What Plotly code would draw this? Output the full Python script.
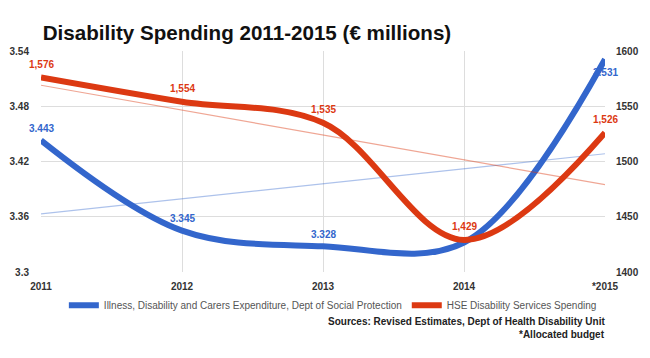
import numpy as np
import plotly.graph_objects as go

years = [2011, 2012, 2013, 2014, 2015]
year_labels = ["2011", "2012", "2013", "2014", "*2015"]
social_protection = [3.443, 3.345, 3.328, 3.332, 3.531]
hse_spending = [1576, 1554, 1535, 1429, 1526]
left_ticks = [3.3, 3.36, 3.42, 3.48, 3.54]
right_ticks = [1400, 1450, 1500, 1550, 1600]
blue_label_shown = [True, True, True, False, True]

BLUE = "#3366cc"
RED = "#dc3912"
FONT = "Liberation Sans, Arial, sans-serif"
TRANSPARENT = "rgba(0,0,0,0)"

fig = go.Figure()

# linear trend lines
b_fit = np.polyfit(years, social_protection, 1)
r_fit = np.polyfit(years, hse_spending, 1)
fig.add_trace(go.Scatter(x=years, y=np.polyval(b_fit, years), mode="lines",
                         line=dict(color="rgba(51,102,204,0.4)", width=1.2),
                         showlegend=False, hoverinfo="skip"))
fig.add_trace(go.Scatter(x=years, y=np.polyval(r_fit, years), mode="lines",
                         line=dict(color="rgba(220,57,18,0.45)", width=1.2),
                         showlegend=False, hoverinfo="skip", yaxis="y2"))

fig.add_trace(go.Scatter(x=years, y=social_protection, mode="lines",
                         name="Illness, Disability and Carers Expenditure, Dept of Social Protection",
                         line=dict(color=BLUE, width=6, shape="spline", smoothing=1.0)))
fig.add_trace(go.Scatter(x=years, y=hse_spending, mode="lines",
                         name="HSE Disability Services Spending",
                         line=dict(color=RED, width=6, shape="spline", smoothing=1.0),
                         yaxis="y2"))

# data labels
for i, (x, v) in enumerate(zip(years, social_protection)):
    if not blue_label_shown[i]:
        continue
    shift = -13 if i == len(years) - 1 else 12
    fig.add_annotation(x=x, y=v, text=f"{v:.3f}", showarrow=False, yshift=shift,
                       xanchor="center", yanchor="middle",
                       font=dict(color=BLUE, size=10, family=FONT, weight="bold"))
for x, v in zip(years, hse_spending):
    fig.add_annotation(x=x, y=v, yref="y2", text=f"{v:,}", showarrow=False, yshift=13,
                       xanchor="center", yanchor="middle",
                       font=dict(color=RED, size=10, family=FONT, weight="bold"))

fig.add_annotation(xref="paper", yref="paper", x=1.004, y=-0.222, xanchor="right", yanchor="middle",
                   text="<b>Sources: Revised Estimates, Dept of Health Disability Unit</b>", showarrow=False,
                   font=dict(size=10, color="#222", family=FONT))
fig.add_annotation(xref="paper", yref="paper", x=1.004, y=-0.285, xanchor="right", yanchor="middle",
                   text="<b>*Allocated budget</b>", showarrow=False,
                   font=dict(size=10, color="#222", family=FONT))

fig.update_layout(
    width=642, height=350,
    margin=dict(l=33, r=45, t=43, b=86, autoexpand=False),
    paper_bgcolor="white", plot_bgcolor="white",
    font=dict(family=FONT),
    title=dict(text="<b>Disability Spending 2011-2015 (€ millions)</b>", x=0.054, xanchor="left",
               y=0.9286, yanchor="middle", font=dict(size=20.6, color="#111", family=FONT)),
    xaxis=dict(range=[2011, 2015], tickvals=years, ticktext=year_labels, showgrid=True,
               gridcolor="#dddddd", zeroline=False, showline=False, automargin=False,
               ticks="outside", ticklen=5, tickcolor=TRANSPARENT,
               tickfont=dict(size=10, color="#333", family=FONT, weight="bold")),
    yaxis=dict(range=[3.3, 3.54], tickvals=left_ticks, ticktext=[str(t) for t in left_ticks],
               gridcolor="#dddddd", zeroline=False, showline=False, automargin=False,
               ticks="outside", ticklen=9, tickcolor=TRANSPARENT,
               tickfont=dict(size=10, color="#333", family=FONT, weight="bold")),
    yaxis2=dict(range=[1400, 1600], tickvals=right_ticks, overlaying="y", side="right",
                showgrid=False, zeroline=False, automargin=False,
                ticks="outside", ticklen=8, tickcolor=TRANSPARENT,
                tickfont=dict(size=10, color="#333", family=FONT, weight="bold")),
    legend=dict(orientation="h", x=0.506, xanchor="center", xref="container",
                y=0.151, yanchor="middle", yref="container",
                font=dict(size=10, color="#555", family=FONT), itemwidth=30),
    showlegend=True,
)

fig.write_html("out.html")
